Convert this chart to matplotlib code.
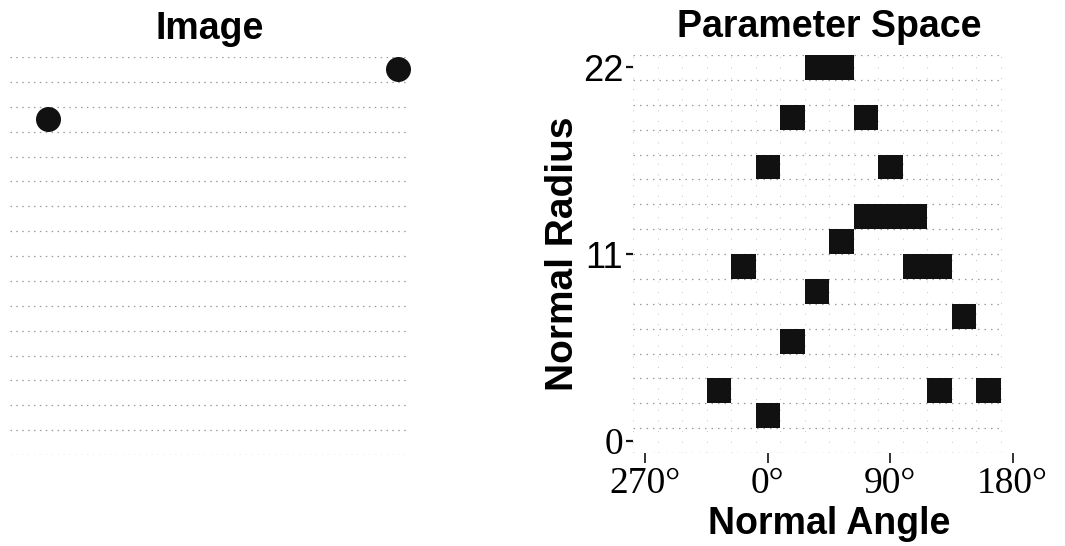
import numpy as np
import matplotlib
matplotlib.use("Agg")
import matplotlib.pyplot as plt
from matplotlib.colors import ListedColormap

SANS = "Liberation Sans"
SERIF = "Liberation Serif"

# Input image: 16 x 16 pixels, two lit pixels
image_size = 16
point_cols = [15, 1]
point_rows = [0, 2]

# Hough accumulator: 16 angle bins (18 deg each) x 16 radius bins
angle_start = -90
angle_step = 18
n_angle_bins = 16
radius_max = 22
n_radius_bins = 16

# Accumulator cells that received votes (angle in degrees, radius bin)
hit_angles = [36, 54, 18, 72, 0, 90, 72, 90, 108, 54, -18, 108, 126,
              36, 144, 18, -36, 126, 162, 0]
hit_radius_bins = [15, 15, 13, 13, 11, 11, 9, 9, 9, 8, 7, 7, 7,
                   6, 5, 4, 2, 2, 2, 1]

angle_ticks = [-90, 0, 90, 180]
angle_tick_labels = ["270°", "0°", "90°", "180°"]
radius_ticks = [0, 11, 22]
radius_tick_labels = ["0", "11", "22"]

INK = "#111111"
DOT = "#9a9a9a"

fig = plt.figure(figsize=(10.65, 5.46), dpi=100)
W, H = 1065, 546

# ---------------- left: image ----------------
ax_img = fig.add_axes([10 / W, 1 - 455 / H, 400 / W, 398 / H])
ax_img.set_xlim(0, image_size)
ax_img.set_ylim(image_size, 0)
ax_img.hlines(np.arange(image_size + 1), 0, image_size, colors=DOT,
              linewidth=0.9, linestyles=(0, (1.2, 3.5)), zorder=1)
ax_img.scatter(np.array(point_cols) + 0.5, np.array(point_rows) + 0.5,
               s=(25 * 0.72) ** 2, color=INK, zorder=3, clip_on=False,
               linewidths=0)
ax_img.set_axis_off()
ax_img.set_title("Image", fontsize=27, fontweight="bold", family=SANS,
                 pad=13)

# ---------------- right: parameter space ----------------
ax = fig.add_axes([633 / W, 1 - 453 / H, 392 / W, 398 / H])
radius_step = radius_max / (n_radius_bins - 1)
angle_edges = angle_start - angle_step / 2 + angle_step * np.arange(n_angle_bins + 1)
radius_edges = (np.arange(n_radius_bins + 1) - 0.5) * radius_step

acc = np.zeros((n_radius_bins, n_angle_bins))
for a, r in zip(hit_angles, hit_radius_bins):
    acc[r, (a - angle_start) // angle_step] += 1
acc = np.ma.masked_equal(acc, 0)

grid_right = angle_edges[-2]
ax.hlines(radius_edges, angle_edges[0], grid_right, colors=DOT,
          linewidth=0.9, linestyles=(0, (1.2, 4)), zorder=1)
ax.vlines(angle_edges[:-1], radius_edges[0], radius_edges[-1], colors="#c4c4c4",
          linewidth=0.7, linestyles=(0, (1, 10)), zorder=1)
ax.pcolormesh(angle_edges, radius_edges, acc, cmap=ListedColormap([INK]),
              vmin=0, vmax=1, zorder=2)

ax.set_xlim(angle_edges[0], angle_edges[-1])
ax.set_ylim(radius_edges[0], radius_edges[-1])
for s in ax.spines.values():
    s.set_visible(False)

ax.set_xticks(angle_ticks, angle_tick_labels, family=SERIF, fontsize=27)
ax.set_yticks(radius_ticks, radius_tick_labels, family=SANS, fontsize=26)
ax.get_yticklabels()[0].set_family(SERIF)
ax.get_yticklabels()[0].set_fontsize(27)
ax.tick_params(axis="x", length=7, width=1.2, pad=2.5, color=INK)
ax.tick_params(axis="y", length=5, width=1.6, pad=2, color=INK)

ax.set_xlabel("Normal Angle", fontsize=27, fontweight="bold", family=SANS,
              labelpad=4)
ax.set_ylabel("Normal Radius", fontsize=28, fontweight="bold", family=SANS,
              labelpad=1)
ax.set_title("Parameter Space", fontsize=27, fontweight="bold", family=SANS,
             pad=13)

fig.savefig("out.png", dpi=100, facecolor="white")
